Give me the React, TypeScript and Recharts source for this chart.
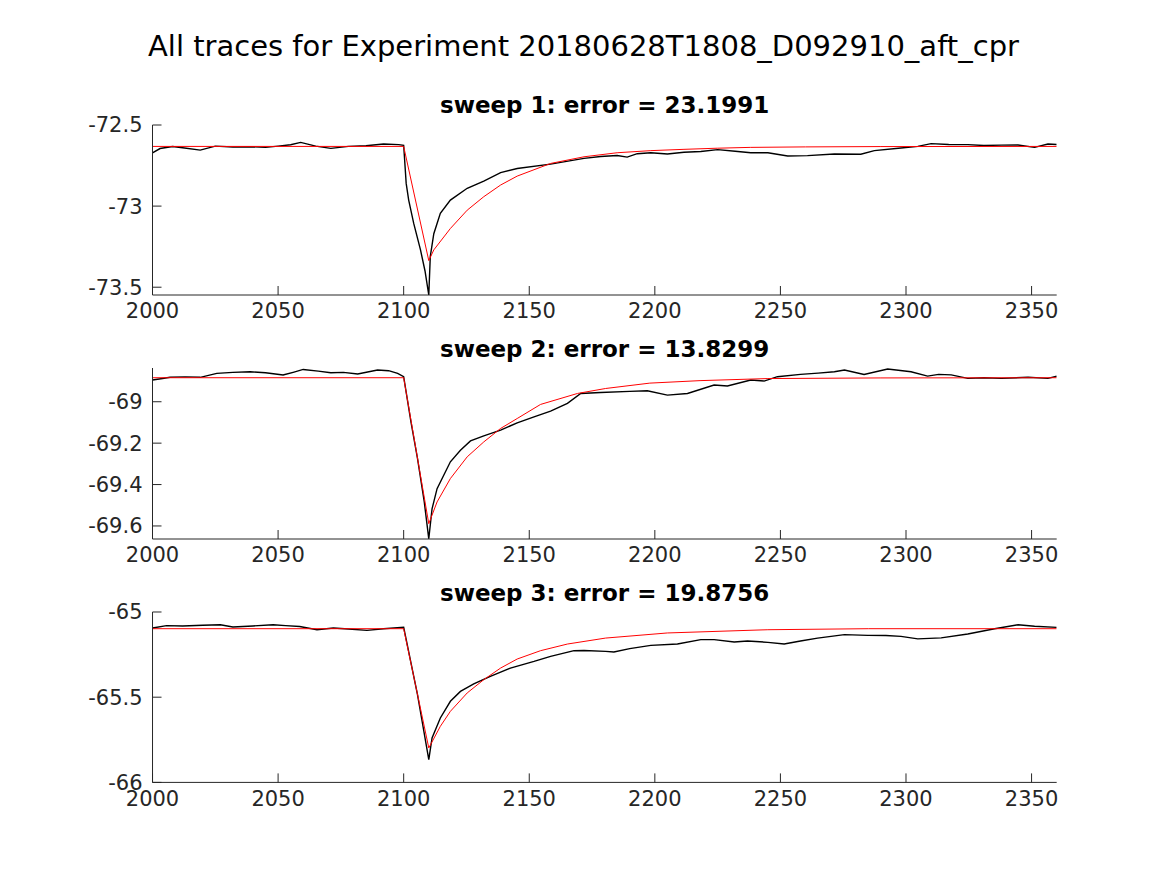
import { LineChart, Line, XAxis, YAxis } from "recharts"

const FONT = "DejaVu Sans"
const AXIS_COLOR = "#262626"

const mainTitle = "All traces for Experiment 20180628T1808_D092910_aft_cpr"
const xTicks = [2000, 2050, 2100, 2150, 2200, 2250, 2300, 2350]

// sweep 1
const s1Title = "sweep 1: error = 23.1991"
const s1Ticks = [-73.5, -73, -72.5]
const s1TraceT = [2000, 2003, 2008, 2012, 2019, 2025, 2032, 2039, 2045, 2050, 2055, 2059, 2065, 2071, 2078, 2085, 2092, 2098, 2100, 2101, 2102, 2104, 2106.7, 2108.5, 2110, 2110.6, 2112, 2114.6, 2118.6, 2125.3, 2131.9, 2138.6, 2145.2, 2158.5, 2171.8, 2178.4, 2185, 2189, 2193, 2198.4, 2205, 2211.6, 2218.3, 2225, 2232, 2238.2, 2245, 2252.9, 2260.8, 2271.5, 2282, 2287.4, 2298, 2304.7, 2310, 2317, 2324.6, 2331, 2338, 2344.6, 2351.2, 2356.5, 2360]
const s1TraceV = [-72.672, -72.645, -72.633, -72.64, -72.655, -72.63, -72.636, -72.634, -72.638, -72.63, -72.622, -72.607, -72.63, -72.644, -72.632, -72.628, -72.617, -72.621, -72.625, -72.86, -72.963, -73.107, -73.27, -73.4, -73.548, -73.31, -73.17, -73.045, -72.963, -72.89, -72.846, -72.794, -72.768, -72.741, -72.706, -72.694, -72.688, -72.698, -72.677, -72.671, -72.679, -72.668, -72.663, -72.652, -72.662, -72.671, -72.671, -72.691, -72.689, -72.679, -72.68, -72.658, -72.642, -72.632, -72.615, -72.62, -72.621, -72.626, -72.624, -72.623, -72.638, -72.617, -72.62]
const s1FitT = [2000, 2100, 2110, 2112, 2118.6, 2125.3, 2131.9, 2138.6, 2145.2, 2158.5, 2171.8, 2185, 2198.4, 2211.6, 2225, 2238, 2260, 2290, 2360]
const s1FitV = [-72.632, -72.632, -73.336, -73.27, -73.138, -73.025, -72.942, -72.87, -72.815, -72.737, -72.696, -72.671, -72.658, -72.65, -72.643, -72.638, -72.635, -72.633, -72.632]

// sweep 2
const s2Title = "sweep 2: error = 13.8299"
const s2Ticks = [-69.6, -69.4, -69.2, -69]
const s2TraceT = [2000, 2004, 2007, 2013, 2019, 2025.6, 2032, 2038.9, 2045, 2052, 2056, 2060, 2066, 2071, 2076, 2081.7, 2089.6, 2094, 2097.6, 2100, 2102.9, 2105.5, 2108.2, 2110, 2111.3, 2113.3, 2118.6, 2122.6, 2126.6, 2131.9, 2138.6, 2145.2, 2151.9, 2158.5, 2165.2, 2170.5, 2178.4, 2190, 2197, 2205, 2213, 2223.6, 2228.9, 2238.2, 2243.5, 2248.8, 2258, 2265, 2271.5, 2275.5, 2283.3, 2292.7, 2302, 2308.6, 2313, 2318, 2324.6, 2331, 2338, 2348.6, 2356.5, 2360]
const s2TraceV = [-68.895, -68.888, -68.882, -68.88, -68.882, -68.863, -68.858, -68.855, -68.86, -68.871, -68.858, -68.844, -68.852, -68.86, -68.858, -68.866, -68.847, -68.85, -68.863, -68.879, -69.097, -69.274, -69.484, -69.662, -69.517, -69.42, -69.29, -69.234, -69.189, -69.165, -69.137, -69.102, -69.073, -69.045, -69.008, -68.96, -68.955, -68.95, -68.947, -68.968, -68.96, -68.919, -68.924, -68.895, -68.9, -68.879, -68.868, -68.862, -68.855, -68.847, -68.868, -68.842, -68.855, -68.876, -68.868, -68.87, -68.887, -68.884, -68.887, -68.882, -68.887, -68.877]
const s2FitT = [2000, 2100, 2110, 2113.3, 2118.6, 2125.3, 2131.9, 2138.6, 2145.2, 2154.5, 2169.2, 2180.4, 2198, 2218, 2245, 2290, 2360]
const s2FitV = [-68.884, -68.884, -69.589, -69.484, -69.371, -69.266, -69.194, -69.129, -69.081, -69.013, -68.96, -68.936, -68.91, -68.898, -68.888, -68.885, -68.884]

// sweep 3
const s3Title = "sweep 3: error = 19.8756"
const s3Ticks = [-66, -65.5, -65]
const s3TraceT = [2000, 2005.6, 2012, 2020, 2027, 2032, 2040, 2048, 2053, 2058.6, 2065.5, 2072, 2078, 2085.4, 2092, 2100, 2105.5, 2110, 2111.3, 2114.6, 2118.6, 2122.6, 2127.9, 2134.5, 2142.5, 2151.9, 2158.5, 2167.8, 2171.8, 2180.4, 2183.7, 2190, 2198.4, 2209, 2218.3, 2223.6, 2231.6, 2236.9, 2245, 2251.5, 2258, 2264.8, 2275.5, 2284.8, 2292, 2298, 2304.7, 2314, 2324.6, 2335.3, 2344.6, 2351.2, 2360]
const s3TraceV = [-65.094, -65.08, -65.082, -65.078, -65.075, -65.088, -65.082, -65.075, -65.08, -65.085, -65.104, -65.094, -65.1, -65.108, -65.098, -65.09, -65.485, -65.866, -65.739, -65.622, -65.524, -65.466, -65.422, -65.378, -65.329, -65.29, -65.26, -65.227, -65.226, -65.231, -65.235, -65.215, -65.196, -65.188, -65.162, -65.162, -65.176, -65.17, -65.178, -65.188, -65.17, -65.153, -65.133, -65.137, -65.138, -65.143, -65.158, -65.152, -65.129, -65.098, -65.075, -65.084, -65.09]
const s3FitT = [2000, 2100, 2110, 2114.6, 2118.6, 2125.3, 2131.9, 2138.6, 2145.2, 2154.5, 2165.2, 2180.4, 2205, 2245, 2285, 2360]
const s3FitV = [-65.098, -65.098, -65.798, -65.671, -65.583, -65.475, -65.397, -65.329, -65.276, -65.227, -65.188, -65.153, -65.123, -65.104, -65.098, -65.098]

const zip = (t: number[], v: number[]) => t.map((x, i) => ({ t: x, v: v[i] }))

const PLOT_LEFT = 152.5
const PLOT_RIGHT = 1056.7
const PAD_TOP = 20
const Y_AXIS_W = 70
const X_AXIS_H = 40

interface SubplotProps {
  plotTop: number
  plotBottom: number
  domain: [number, number]
  ticks: number[]
  trace: { t: number; v: number }[]
  fit: { t: number; v: number }[]
}

function Subplot({ plotTop, plotBottom, domain, ticks, trace, fit }: SubplotProps) {
  const h = plotBottom - plotTop + PAD_TOP + X_AXIS_H
  const tickStyle = { fontSize: 21, fontFamily: FONT, fill: AXIS_COLOR }
  return (
    <div style={{ position: "absolute", left: 0, top: plotTop - PAD_TOP }}>
      <LineChart
        width={1167}
        height={h}
        margin={{ top: PAD_TOP, bottom: 0, left: PLOT_LEFT - Y_AXIS_W, right: 1167 - PLOT_RIGHT }}
      >
        <XAxis
          dataKey="t"
          type="number"
          domain={[2000, 2360]}
          allowDataOverflow
          ticks={xTicks}
          interval={0}
          height={X_AXIS_H}
          tickSize={-9}
          tickMargin={17.5}
          axisLine={{ stroke: AXIS_COLOR }}
          tickLine={{ stroke: AXIS_COLOR }}
          tick={tickStyle}
        />
        <YAxis
          type="number"
          domain={domain}
          allowDataOverflow
          ticks={ticks}
          interval={0}
          width={Y_AXIS_W}
          tickSize={-9}
          tickMargin={19}
          axisLine={{ stroke: AXIS_COLOR }}
          tickLine={{ stroke: AXIS_COLOR }}
          tick={tickStyle}
        />
        <Line data={trace} dataKey="v" type="linear" stroke="#000000" strokeWidth={1.4} dot={false} isAnimationActive={false} />
        <Line data={fit} dataKey="v" type="linear" stroke="#ff0000" strokeWidth={1} dot={false} isAnimationActive={false} />
      </LineChart>
    </div>
  )
}

const plots = [
  { top: 125, bottom: 295, domain: [-73.548, -72.5] as [number, number], ticks: s1Ticks, title: s1Title, trace: zip(s1TraceT, s1TraceV), fit: zip(s1FitT, s1FitV) },
  { top: 368.3, bottom: 539.3, domain: [-69.663, -68.837] as [number, number], ticks: s2Ticks, title: s2Title, trace: zip(s2TraceT, s2TraceV), fit: zip(s2FitT, s2FitV) },
  { top: 612.3, bottom: 782.7, domain: [-66, -65] as [number, number], ticks: s3Ticks, title: s3Title, trace: zip(s3TraceT, s3TraceV), fit: zip(s3FitT, s3FitV) },
]

export default function App() {
  const cx = (PLOT_LEFT + PLOT_RIGHT) / 2
  return (
    <div style={{ position: "absolute", left: 0, top: 0, width: 1167, height: 875, background: "#fff", overflow: "hidden" }}>
      {plots.map((p, i) => (
        <Subplot key={i} plotTop={p.top} plotBottom={p.bottom} domain={p.domain} ticks={p.ticks} trace={p.trace} fit={p.fit} />
      ))}
      <svg width={1167} height={875} style={{ position: "absolute", left: 0, top: 0, pointerEvents: "none" }}>
        <text x={583.5} y={56} textAnchor="middle" fontFamily={FONT} fontSize={29} fill="#000">
          {mainTitle}
        </text>
        {plots.map((p, i) => (
          <text key={i} x={cx} y={p.top - 11.7} textAnchor="middle" fontFamily={FONT} fontSize={23} fontWeight="bold" fill="#000">
            {p.title}
          </text>
        ))}
      </svg>
    </div>
  )
}
